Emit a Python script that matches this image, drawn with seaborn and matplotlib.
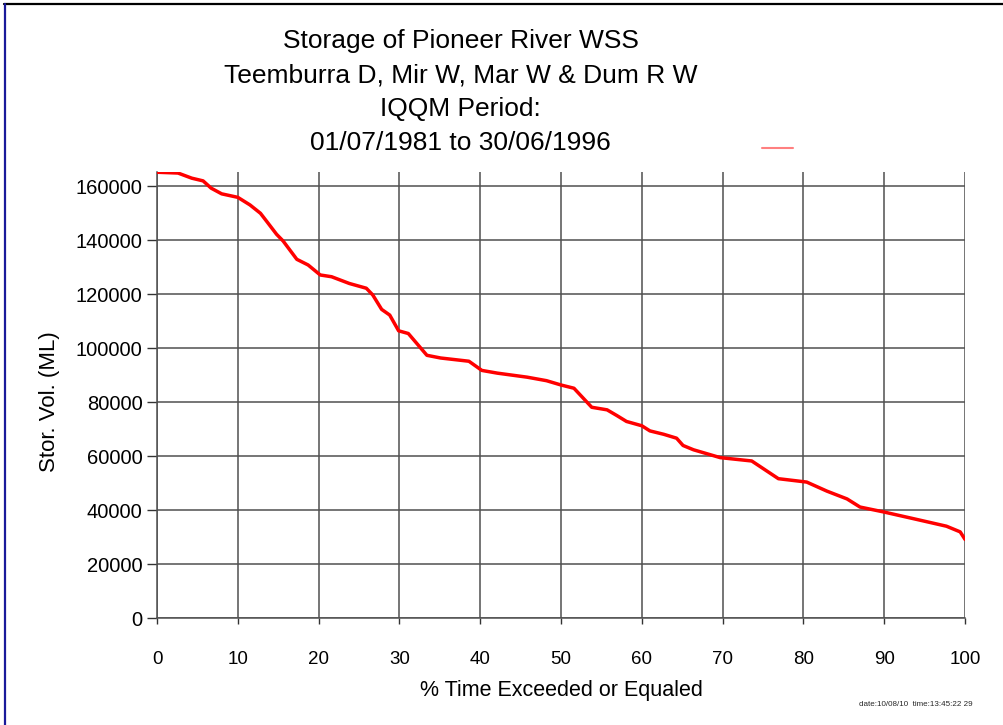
import numpy as np
import pandas as pd
import seaborn as sns
import matplotlib.pyplot as plt
from matplotlib.lines import Line2D

# values
pct_time = [0, 2.6, 4.3, 5.7, 6.7, 8.0, 10.0, 11.5, 12.8, 13.6, 14.8, 15.6, 17.3, 18.7,
            20.2, 21.6, 23.8, 25.9, 26.7, 27.8, 28.8, 29.9, 31.1, 33.4, 35.1, 38.6,
            40.2, 42.1, 45.8, 48.2, 50.0, 51.6, 53.8, 55.7, 56.9, 58.1, 60.0, 61.0,
            62.7, 64.3, 65.1, 66.4, 69.7, 73.6, 76.9, 80.4, 82.9, 85.4, 87.0, 89.9,
            93.6, 97.7, 99.4, 100.0]
storage_ml = [165200, 164900, 163000, 162000, 159300, 157200, 155900, 153100, 150000,
              146900, 142200, 139750, 132950, 130850, 127150, 126500, 124000, 122240,
              119750, 114400, 112300, 106470, 105470, 97400, 96400, 95200, 91800,
              90800, 89300, 88000, 86400, 85200, 78150, 77200, 75100, 72900, 71300,
              69400, 68150, 66700, 64000, 62400, 59500, 58260, 51700, 50450, 47100,
              44200, 41200, 39400, 36900, 34100, 32000, 29200]

x_ticks = list(range(0, 101, 10))
y_ticks = list(range(0, 160001, 20000))

title_lines = ["Storage of Pioneer River WSS",
               "Teemburra D, Mir W, Mar W & Dum R W",
               "IQQM Period:",
               "01/07/1981 to 30/06/1996"]

df = pd.DataFrame({"pct": pct_time, "vol": storage_ml})

sns.set_style("white")
plt.rcParams['font.family'] = ['Liberation Sans', 'DejaVu Sans']

fig = plt.figure(figsize=(10.04, 7.25), dpi=100)
ax = fig.add_axes([0.1564, 0.1472, 0.8048, 0.6156])

grid_col = '#505050'
sns.lineplot(data=df, x="pct", y="vol", color='red', linewidth=2.5, ax=ax, zorder=3)

ax.set_xlim(0, 100)
ax.set_ylim(0, 165300)
ax.set_xticks(x_ticks)
ax.set_yticks(y_ticks)
ax.grid(True, color=grid_col, linewidth=1.1)
for s in ['top', 'right']:
    ax.spines[s].set_visible(False)
for s in ['left', 'bottom']:
    ax.spines[s].set_color(grid_col)
    ax.spines[s].set_linewidth(1.1)
ax.tick_params(axis='both', direction='out', width=1, color='#333333', labelcolor='black')
ax.tick_params(axis='x', bottom=True, length=4.5, pad=19, labelsize=13.5)
ax.tick_params(axis='y', left=True, length=7, pad=3.5, labelsize=14.5)

ax.set_xlabel("% Time Exceeded or Equaled", fontsize=15.5, color='black')
ax.xaxis.set_label_coords(0.5, -0.138)
ax.set_ylabel("Stor. Vol. (ML)", fontsize=16, color='black')
ax.yaxis.set_label_coords(-0.120, 0.485)

for i, line in enumerate(title_lines):
    fig.text(0.459, 1 - (48 + i * 34) / 725, line, ha='center', va='baseline',
             fontsize=19, color='black')

# stray legend dash
fig.add_artist(Line2D([0.759, 0.790], [0.796, 0.796], color='#ff8080', linewidth=1.5))

fig.text(0.969, 0.028, "date:10/08/10  time:13:45:22 29", ha='right', va='center', fontsize=5.8)

# page frame (top and left edges only)
fig.add_artist(Line2D([0.004, 1.0], [0.995, 0.995], color='black', linewidth=1.6))
fig.add_artist(Line2D([0.005, 0.005], [0.0, 0.995], color='#1a1a9a', linewidth=1.6))

fig.savefig("out.png", dpi=100)
